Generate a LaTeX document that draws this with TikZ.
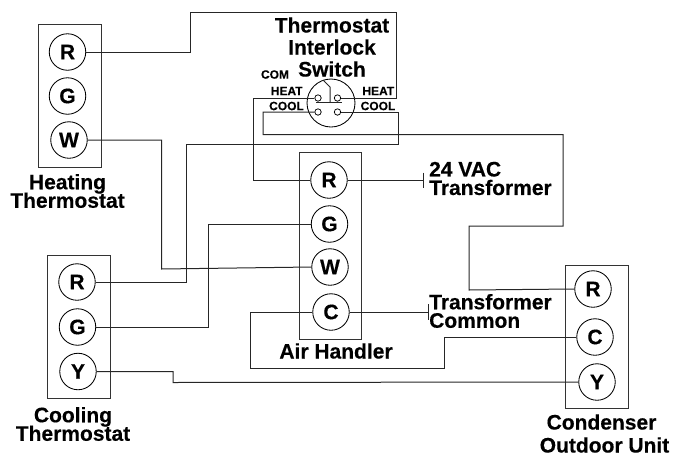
\documentclass[tikz,border=0pt]{standalone}
\usepackage{fontspec}
\setmainfont[BoldFeatures={FakeBold=0.35}]{Liberation Sans}
\newcommand\tightlines{\lineskiplimit -30pt\relax}
\tikzset{
  x=1pt,y=-1pt,
  wire/.style={line width=1pt,black!85},
  panel/.style={draw,line width=1pt,black!80,inner sep=0pt,anchor=north west},
  term/.style={circle,draw,line width=0.85pt,black,minimum size=36.5pt,inner sep=0pt,font=\fontsize{21}{21}\bfseries\selectfont},
  contact/.style={circle,draw,line width=0.75pt,minimum size=6.4pt,inner sep=0pt},
  big/.style={font=\fontsize{21}{18.5}\bfseries\selectfont\tightlines,align=center,inner sep=0pt,text=black},
  small/.style={font=\fontsize{12}{12}\bfseries\selectfont,inner sep=0pt},
}
\begin{document}
\begin{tikzpicture}
\useasboundingbox (0,0) rectangle (673,456);
% panels
\node[panel,minimum width=63pt,minimum height=143pt] (hp) at (38,24) {};
\node[panel,minimum width=63pt,minimum height=143pt] (cp) at (47,254.5) {};
\node[panel,minimum width=62pt,minimum height=187pt] (ap) at (299,152) {};
\node[panel,minimum width=63pt,minimum height=143pt] (op) at (565,264.5) {};
% terminals
\node[term] (hR) at (67.5,52) {R};
\node[term] (hG) at (67.5,96) {G};
\node[term] (hW) at (69,140) {W};
\node[term] (cR) at (77,282) {R};
\node[term] (cG) at (77.5,327) {G};
\node[term] (cY) at (78,371.5) {Y};
\node[term] (aR) at (329,180) {R};
\node[term] (aG) at (329.5,224) {G};
\node[term] (aW) at (330,267) {W};
\node[term] (aC) at (331,312) {C};
\node[term] (oR) at (593,289) {R};
\node[term] (oC) at (595,337) {C};
\node[term] (oY) at (597,382) {Y};
% switch
\node[circle,draw,line width=0.85pt,minimum size=48pt,inner sep=0pt] (sw) at (331,103) {};
\node[contact] (k1) at (318,98) {};
\node[contact] (k2) at (337.5,98) {};
\node[contact] (k3) at (318,112) {};
\node[contact] (k4) at (337.5,112) {};
\coordinate (sa) at (323,80);
\coordinate (sb) at (330,87);
\coordinate (sj) at (330,102);
\coordinate (sl) at (316,102);
\coordinate (sr) at (342,102);
\draw[wire] (sa) -- (sb) -- (sj);
\draw[wire] (sl) -- (sr);
% wires
\draw[wire] (hR.east) -- (190.5,52) -- (190.5,12) -- (396.5,12) -- (396.5,98) -- (k2.east);
\draw[wire] (k1.west) -- (253.5,98) -- (253.5,180) -- (aR.west);
\draw[wire] (k3.west) -- (263,112) -- (263,134.5) -- (563,134.5) -- (563,226) -- (469,226) -- (469,290) -- (oR.west);
\draw[wire] (k4.east) -- (398,112) -- (398,144) -- (186,144) -- (186,282) -- (cR.east);
\draw[wire] (hW.east) -- (161.5,140) -- (161.5,269) -- (aW.west);
\draw[wire] (cG.east) -- (208.5,327) -- (208.5,224) -- (aG.west);
\draw[wire] (cY.east) -- (173,371.5) -- (173,382.5) -- (oY.west);
\draw[wire] (aC.west) -- (250.7,312) -- (250.7,368) -- (444,368) -- (444,337) -- (oC.west);
% transformer stubs
\coordinate (t1) at (423.5,180);
\coordinate (t2) at (428,312);
\coordinate (t1a) at (423.5,172.5);
\coordinate (t1b) at (423.5,187.5);
\coordinate (t2a) at (428,304);
\coordinate (t2b) at (428,320);
\draw[wire] (aR.east) -- (t1);
\draw[wire] (t1a) -- (t1b);
\draw[wire] (aC.east) -- (t2);
\draw[wire] (t2a) -- (t2b);
% labels
\node[big] (l1) at (67.5,191) {Heating\\Thermostat};
\node[big] (l2) at (73,424) {Cooling\\Thermostat};
\node[big] (l3) at (336,351) {Air Handler};
\node[big] (l4) at (604.5,433.5) {Condenser\hspace*{6pt}\\[4.5pt]Outdoor Unit};
\node[big] (l5) at (332,47) {Thermostat\\[3.5pt]Interlock\\[3.5pt]Switch};
\node[big,align=left,anchor=west] (l6) at (429,178.5) {24 VAC\\Transformer};
\node[big,align=left,anchor=west] (l7) at (429,311) {Transformer\\Common};
\node[small] (l8) at (275,74.5) {COM};
\node[small] (l9) at (286.7,91) {HEAT};
\node[small] (l10) at (286.5,106) {COOL};
\node[small] (l11) at (378.3,91) {HEAT};
\node[small] (l12) at (378,106) {COOL};
\end{tikzpicture}
\end{document}
